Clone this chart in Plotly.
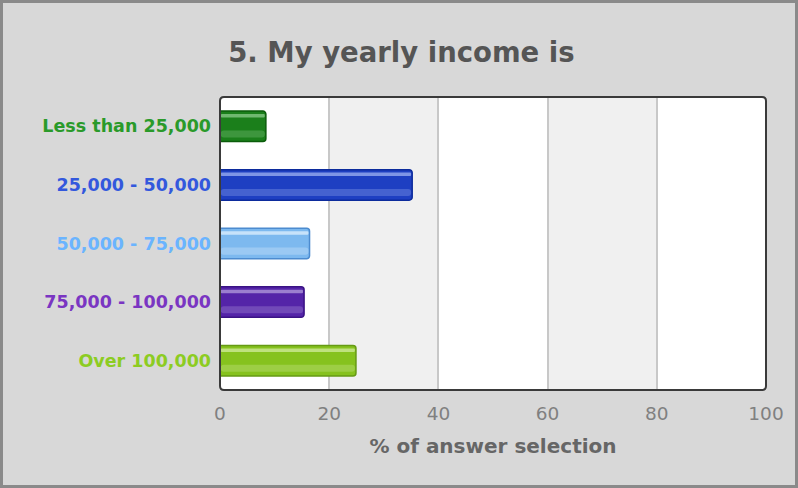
import plotly.graph_objects as go

# Survey results: share of respondents per income bracket
categories = ["Less than 25,000", "25,000 - 50,000", "50,000 - 75,000",
              "75,000 - 100,000", "Over 100,000"]
percentages = [8.4, 35.2, 16.4, 15.4, 24.9]
x_ticks = [0, 20, 40, 60, 80, 100]

# per-bracket styling
fill_colors = ["#1b7f1b", "#1e3fc2", "#7db9ef", "#5424a8", "#86c21e"]
edge_colors = ["#0b5c0b", "#0c2b9c", "#4c8bcf", "#3a1385", "#669a14"]
shine_colors = ["#7fc27f", "#8fa4ec", "#d4e9fb", "#a88fd6", "#c9e68f"]
label_colors = ["#2a9a2a", "#3358dd", "#6ab4ff", "#7a35c2", "#8ccc22"]

FONT = "'DejaVu Sans', Verdana, sans-serif"

W, H = 798, 488
L, R, T, B = 220, 32, 97, 98
pw, ph = W - L - R, H - T - B

fig = go.Figure()

# main bars
fig.add_trace(go.Bar(
    x=percentages, y=categories, orientation="h",
    width=0.52, offset=-0.26,
    marker=dict(color=fill_colors, line=dict(color=edge_colors, width=1.5)),
    hoverinfo="x+y", showlegend=False,
))
# glossy highlight strips
fig.add_trace(go.Bar(
    x=[v - 0.35 for v in percentages], y=categories, orientation="h",
    base=0.15, width=0.06, offset=-0.21,
    marker=dict(color=shine_colors, line=dict(width=0), opacity=0.85),
    hoverinfo="skip", showlegend=False,
))
fig.add_trace(go.Bar(
    x=[v - 0.35 for v in percentages], y=categories, orientation="h",
    base=0.15, width=0.12, offset=0.07,
    marker=dict(color=shine_colors, line=dict(width=0), opacity=0.35),
    hoverinfo="skip", showlegend=False,
))

shapes = []
# alternating bands
for a, b in [(20, 40), (60, 80)]:
    shapes.append(dict(type="rect", xref="x", yref="paper", x0=a, x1=b, y0=0, y1=1,
                       fillcolor="#f0f0f0", line=dict(width=0), layer="below"))

# plot frame with slightly rounded corners
rx, ry = 4 / pw, 4 / ph
frame = (f"M {rx},0 L {1 - rx},0 Q 1,0 1,{ry} L 1,{1 - ry} Q 1,1 {1 - rx},1 "
         f"L {rx},1 Q 0,1 0,{1 - ry} L 0,{ry} Q 0,0 {rx},0 Z")
shapes.append(dict(type="path", xref="paper", yref="paper", path=frame,
                   line=dict(color="#3a3a3a", width=2), layer="above"))
# outer page border
shapes.append(dict(type="rect", xref="paper", yref="paper",
                   x0=-L / pw + 1.5 / pw, x1=1 + (R - 1.5) / pw,
                   y0=-B / ph + 1.5 / ph, y1=1 + (T - 1.5) / ph,
                   line=dict(color="#8a8a8a", width=3), layer="above"))

fig.update_layout(
    width=W, height=H,
    margin=dict(l=L, r=R, t=T, b=B),
    paper_bgcolor="#d8d8d8", plot_bgcolor="#ffffff",
    barmode="overlay", barcornerradius=3,
    font=dict(family=FONT, color="#777777"),
    title=dict(text="<b>5. My yearly income is</b>", x=0.503, xanchor="center",
               y=1 - 52 / H, yanchor="middle",
               font=dict(size=27.5, color="#555555", family=FONT)),
    shapes=shapes,
    xaxis=dict(range=[0, 100], tickvals=x_ticks, showgrid=True, gridcolor="#c8c8c8",
               gridwidth=1.5, zeroline=False, showline=False, ticks="",
               tickfont=dict(size=18.5, color="#808080"), ticklabelstandoff=10,
               title=dict(text="<b>% of answer selection</b>", standoff=16,
                          font=dict(size=20, color="#666666"))),
    yaxis=dict(autorange="reversed", showgrid=False, zeroline=False, ticks="",
               tickfont=dict(size=17.5, weight="bold"), ticklabelstandoff=8),
)

# colour each category label individually
fig.update_yaxes(tickvals=categories,
                 ticktext=[f"<span style='color:{c}'>{t}</span>"
                           for c, t in zip(label_colors, categories)])

fig.write_html("out.html")
